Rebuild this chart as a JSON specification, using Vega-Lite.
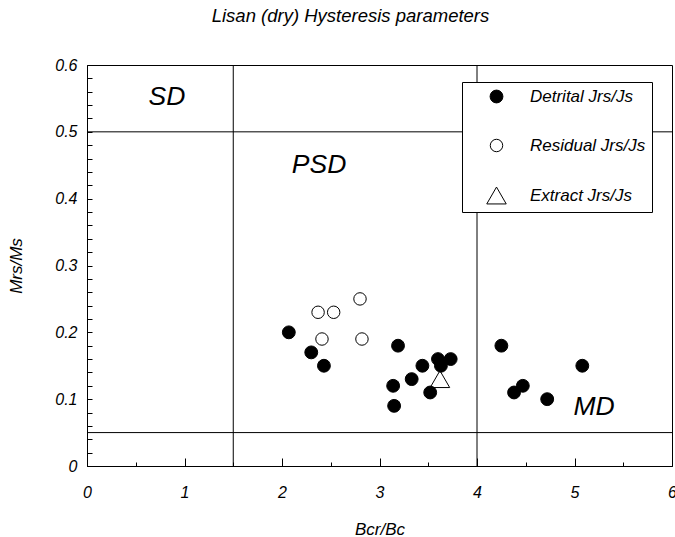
{
  "$schema": "https://vega.github.io/schema/vega-lite/v6.json",
  "width": 585,
  "height": 401,
  "autosize": {"type": "none"},
  "padding": {"left": 87, "top": 65, "right": 3, "bottom": 71},
  "background": "white",
  "title": {
    "text": "Lisan (dry) Hysteresis parameters",
    "font": "Liberation Sans",
    "fontSize": 18.5,
    "fontStyle": "italic",
    "fontWeight": "normal",
    "color": "black",
    "anchor": "middle",
    "dx": -29,
    "offset": 32
  },
  "config": {
    "font": "Liberation Sans",
    "view": {"stroke": "black", "strokeWidth": 1},
    "axis": {
      "domainColor": "black",
      "tickColor": "black",
      "grid": false,
      "labelFont": "Liberation Sans",
      "labelFontStyle": "italic",
      "labelFontSize": 16,
      "labelColor": "black",
      "labelOverlap": false,
      "titleFont": "Liberation Sans",
      "titleFontStyle": "italic",
      "titleFontWeight": "normal",
      "titleFontSize": 17,
      "titleColor": "black"
    },
    "legend": {
      "orient": "none",
      "legendX": 375,
      "legendY": 17,
      "strokeColor": "black",
      "fillColor": "white",
      "padding": 6,
      "symbolOffset": 18,
      "labelOffset": 23,
      "rowPadding": 31,
      "labelFont": "Liberation Sans",
      "labelFontStyle": "italic",
      "labelFontSize": 17,
      "labelColor": "black",
      "symbolStrokeColor": "black",
      "symbolStrokeWidth": 1
    }
  },
  "datasets": {
    "lines": [
      {"x": 0, "y": 0.5, "x2": 6, "y2": 0.5},
      {"x": 0, "y": 0.05, "x2": 6, "y2": 0.05},
      {"x": 1.5, "y": 0, "x2": 1.5, "y2": 0.6},
      {"x": 4, "y": 0, "x2": 4, "y2": 0.6}
    ],
    "zones": [
      {"label": "SD", "x": 0.82, "y": 0.552},
      {"label": "PSD", "x": 2.38, "y": 0.45},
      {"label": "MD", "x": 5.2, "y": 0.088}
    ],
    "points": [
      {"type": "Extract Jrs/Js", "x": 3.62, "y": 0.13},
      {"type": "Detrital Jrs/Js", "x": 2.07, "y": 0.2},
      {"type": "Detrital Jrs/Js", "x": 2.3, "y": 0.17},
      {"type": "Detrital Jrs/Js", "x": 2.43, "y": 0.15},
      {"type": "Detrital Jrs/Js", "x": 3.19, "y": 0.18},
      {"type": "Detrital Jrs/Js", "x": 3.14, "y": 0.12},
      {"type": "Detrital Jrs/Js", "x": 3.15, "y": 0.09},
      {"type": "Detrital Jrs/Js", "x": 3.33, "y": 0.13},
      {"type": "Detrital Jrs/Js", "x": 3.44, "y": 0.15},
      {"type": "Detrital Jrs/Js", "x": 3.6, "y": 0.16},
      {"type": "Detrital Jrs/Js", "x": 3.73, "y": 0.16},
      {"type": "Detrital Jrs/Js", "x": 3.63, "y": 0.15},
      {"type": "Detrital Jrs/Js", "x": 3.52, "y": 0.11},
      {"type": "Detrital Jrs/Js", "x": 4.25, "y": 0.18},
      {"type": "Detrital Jrs/Js", "x": 4.47, "y": 0.12},
      {"type": "Detrital Jrs/Js", "x": 4.38, "y": 0.11},
      {"type": "Detrital Jrs/Js", "x": 4.72, "y": 0.1},
      {"type": "Detrital Jrs/Js", "x": 5.08, "y": 0.15},
      {"type": "Residual Jrs/Js", "x": 2.37, "y": 0.23},
      {"type": "Residual Jrs/Js", "x": 2.53, "y": 0.23},
      {"type": "Residual Jrs/Js", "x": 2.8, "y": 0.25},
      {"type": "Residual Jrs/Js", "x": 2.41, "y": 0.19},
      {"type": "Residual Jrs/Js", "x": 2.82, "y": 0.19}
    ]
  },
  "layer": [
    {
      "data": {"name": "lines"},
      "mark": {"type": "rule", "color": "black", "strokeWidth": 1},
      "encoding": {
        "x": {
          "field": "x", "type": "quantitative",
          "scale": {"domain": [0, 6], "nice": false, "zero": false},
          "axis": {
            "title": "Bcr/Bc",
            "values": [0, 0.5, 1, 1.5, 2, 2.5, 3, 3.5, 4, 4.5, 5, 5.5, 6],
            "tickCount": 20,
            "labelExpr": "datum.value % 1 === 0 ? toString(datum.value) : ''",
            "tickSize": {"condition": {"test": "datum.value % 1 === 0", "value": -8}, "value": -4},
            "labelPadding": 26,
            "titlePadding": 17,
            "labelFlush": false
          }
        },
        "y": {
          "field": "y", "type": "quantitative",
          "scale": {"domain": [0, 0.6], "nice": false, "zero": false},
          "axis": {
            "title": "Mrs/Ms",
            "values": [0, 0.02, 0.04, 0.06, 0.08, 0.1, 0.12, 0.14, 0.16, 0.18, 0.2, 0.22, 0.24, 0.26, 0.28, 0.3, 0.32, 0.34, 0.36, 0.38, 0.4, 0.42, 0.44, 0.46, 0.48, 0.5, 0.52, 0.54, 0.56, 0.58, 0.6],
            "tickCount": 40,
            "labelExpr": "round(datum.value * 50) % 5 === 0 ? toString(round(datum.value * 10) / 10) : ''",
            "tickSize": -5,
            "labelPadding": 15,
            "titlePadding": 29,
            "labelFlush": false
          }
        },
        "x2": {"field": "x2"},
        "y2": {"field": "y2"}
      }
    },
    {
      "data": {"name": "zones"},
      "mark": {"type": "text", "fontSize": 26.5, "fontStyle": "italic", "font": "Liberation Sans", "align": "center", "baseline": "middle", "color": "black"},
      "encoding": {
        "x": {"field": "x", "type": "quantitative"},
        "y": {"field": "y", "type": "quantitative"},
        "text": {"field": "label"}
      }
    },
    {
      "data": {"name": "points"},
      "mark": {"type": "point", "filled": true, "strokeWidth": 1, "opacity": 1},
      "encoding": {
        "x": {"field": "x", "type": "quantitative"},
        "y": {"field": "y", "type": "quantitative"},
        "shape": {
          "field": "type", "type": "nominal",
          "scale": {"domain": ["Detrital Jrs/Js", "Residual Jrs/Js", "Extract Jrs/Js"], "range": ["circle", "circle", "triangle-up"]},
          "legend": {"title": null}
        },
        "fill": {
          "field": "type", "type": "nominal",
          "scale": {"domain": ["Detrital Jrs/Js", "Residual Jrs/Js", "Extract Jrs/Js"], "range": ["black", "white", "white"]},
          "legend": {"title": null}
        },
        "stroke": {
          "field": "type", "type": "nominal",
          "scale": {"domain": ["Detrital Jrs/Js", "Residual Jrs/Js", "Extract Jrs/Js"], "range": ["black", "black", "black"]},
          "legend": {"title": null}
        },
        "size": {
          "field": "type", "type": "nominal",
          "scale": {"type": "ordinal", "domain": ["Detrital Jrs/Js", "Residual Jrs/Js", "Extract Jrs/Js"], "range": [165, 155, 380]},
          "legend": {"title": null}
        }
      }
    }
  ]
}
